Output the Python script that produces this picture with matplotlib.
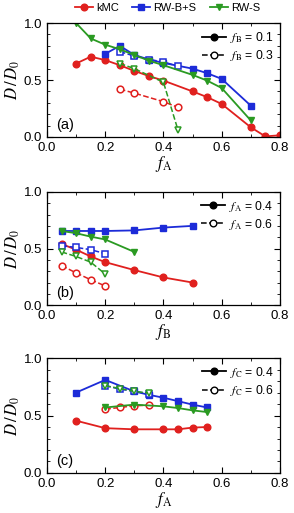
import matplotlib.pyplot as plt
from matplotlib.lines import Line2D

plt.rcParams['font.family'] = ['Liberation Sans', 'DejaVu Sans']
plt.rcParams['mathtext.fontset'] = 'stix'

RED = '#e0201e'
BLUE = '#1c2bd8'
GREEN = '#2a9a22'

# panel (a): x = fA, fB = 0.1 (solid) / 0.3 (open)
a_kmc_x1 = [0.1, 0.15, 0.2, 0.25, 0.3, 0.35, 0.4, 0.5, 0.55, 0.6, 0.7, 0.75, 0.8]
a_kmc_y1 = [0.645, 0.705, 0.675, 0.63, 0.58, 0.535, 0.495, 0.40, 0.35, 0.29, 0.085, 0.005, 0.015]
a_kmc_x2 = [0.25, 0.3, 0.4, 0.45]
a_kmc_y2 = [0.42, 0.385, 0.31, 0.26]
a_bs_x1 = [0.2, 0.25, 0.3, 0.35, 0.4, 0.5, 0.55, 0.6, 0.7]
a_bs_y1 = [0.73, 0.80, 0.72, 0.68, 0.65, 0.60, 0.56, 0.51, 0.275]
a_bs_x2 = [0.25, 0.3, 0.35, 0.4, 0.45]
a_bs_y2 = [0.75, 0.71, 0.68, 0.66, 0.62]
a_rws_x1 = [0.1, 0.15, 0.2, 0.25, 0.3, 0.35, 0.4, 0.5, 0.55, 0.6, 0.7]
a_rws_y1 = [1.0, 0.865, 0.81, 0.77, 0.72, 0.67, 0.63, 0.545, 0.495, 0.43, 0.145]
a_rws_x2 = [0.25, 0.3, 0.4, 0.45]
a_rws_y2 = [0.645, 0.60, 0.48, 0.06]

# panel (b): x = fB, fA = 0.4 (solid) / 0.6 (open)
b_x1 = [0.05, 0.1, 0.15, 0.2, 0.3, 0.4, 0.5]
b_kmc_y1 = [0.54, 0.49, 0.43, 0.38, 0.31, 0.245, 0.20]
b_bs_y1 = [0.655, 0.655, 0.655, 0.655, 0.66, 0.685, 0.70]
b_rws_x1 = [0.05, 0.1, 0.15, 0.2, 0.3]
b_rws_y1 = [0.655, 0.635, 0.605, 0.58, 0.47]
b_x2 = [0.05, 0.1, 0.15, 0.2]
b_kmc_y2 = [0.35, 0.285, 0.225, 0.17]
b_bs_y2 = [0.525, 0.51, 0.49, 0.455]
b_rws_y2 = [0.47, 0.43, 0.38, 0.275]

# panel (c): x = fA, fC = 0.4 (solid) / 0.6 (open)
c_kmc_x1 = [0.1, 0.2, 0.3, 0.4, 0.45, 0.5, 0.55]
c_kmc_y1 = [0.455, 0.39, 0.38, 0.38, 0.38, 0.395, 0.40]
c_bs_x1 = [0.1, 0.2, 0.3, 0.35, 0.4, 0.45, 0.5, 0.55]
c_bs_y1 = [0.70, 0.81, 0.71, 0.68, 0.655, 0.625, 0.595, 0.57]
c_rws_x1 = [0.2, 0.3, 0.4, 0.45, 0.5, 0.55]
c_rws_y1 = [0.57, 0.595, 0.58, 0.565, 0.545, 0.53]
c_x2 = [0.2, 0.25, 0.3, 0.35]
c_kmc_y2 = [0.555, 0.57, 0.585, 0.59]
c_bs_y2 = [0.76, 0.73, 0.71, 0.69]
c_rws_y2 = [0.76, 0.735, 0.71, 0.695]

MS = 4.8

fig = plt.figure(figsize=(2.94, 5.13), dpi=100)
ax_a = fig.add_axes([0.160, 0.733, 0.792, 0.222])
ax_b = fig.add_axes([0.160, 0.405, 0.792, 0.221])
ax_c = fig.add_axes([0.160, 0.078, 0.792, 0.224])


def solid(ax, x, y, c, m):
    ax.plot(x, y, '-', color=c, marker=m, ms=MS, lw=1.3)


def hollow(ax, x, y, c, m):
    ax.plot(x, y, '--', color=c, marker=m, ms=MS, lw=1.1, mfc='white', mew=1.1)


solid(ax_a, a_kmc_x1, a_kmc_y1, RED, 'o')
hollow(ax_a, a_kmc_x2, a_kmc_y2, RED, 'o')
solid(ax_a, a_bs_x1, a_bs_y1, BLUE, 's')
hollow(ax_a, a_bs_x2, a_bs_y2, BLUE, 's')
solid(ax_a, a_rws_x1, a_rws_y1, GREEN, 'v')
hollow(ax_a, a_rws_x2, a_rws_y2, GREEN, 'v')

solid(ax_b, b_x1, b_kmc_y1, RED, 'o')
hollow(ax_b, b_x2, b_kmc_y2, RED, 'o')
solid(ax_b, b_x1, b_bs_y1, BLUE, 's')
hollow(ax_b, b_x2, b_bs_y2, BLUE, 's')
solid(ax_b, b_rws_x1, b_rws_y1, GREEN, 'v')
hollow(ax_b, b_x2, b_rws_y2, GREEN, 'v')

solid(ax_c, c_kmc_x1, c_kmc_y1, RED, 'o')
hollow(ax_c, c_x2, c_kmc_y2, RED, 'o')
solid(ax_c, c_bs_x1, c_bs_y1, BLUE, 's')
hollow(ax_c, c_x2, c_bs_y2, BLUE, 's')
solid(ax_c, c_rws_x1, c_rws_y1, GREEN, 'v')
hollow(ax_c, c_x2, c_rws_y2, GREEN, 'v')

panels = [(ax_a, '(a)', r'$f_\mathrm{A}$', r'$f_\mathrm{B}$', ['0.1', '0.3']),
          (ax_b, '(b)', r'$f_\mathrm{B}$', r'$f_\mathrm{A}$', ['0.4', '0.6']),
          (ax_c, '(c)', r'$f_\mathrm{A}$', r'$f_\mathrm{C}$', ['0.4', '0.6'])]
for ax, tag, xlab, key, vals in panels:
    ax.set_xlim(0, 0.8)
    ax.set_ylim(0, 1.0)
    ax.set_xticks([0, 0.2, 0.4, 0.6, 0.8])
    ax.set_xticks([0.1, 0.3, 0.5, 0.7], minor=True)
    ax.set_yticks([0, 0.5, 1.0])
    ax.set_yticks([0.1, 0.2, 0.3, 0.4, 0.6, 0.7, 0.8, 0.9], minor=True)
    ax.tick_params(which='both', direction='in', top=True, right=True, labelsize=9.5)
    ax.tick_params(which='major', length=4)
    ax.tick_params(which='minor', length=2.5)
    for s in ax.spines.values():
        s.set_linewidth(0.9)
    ax.set_xlabel(xlab, fontsize=12, labelpad=0)
    ax.set_ylabel(r'$D\,/\,D_0$', fontsize=12, labelpad=1)
    ax.text(0.04, 0.07, tag, transform=ax.transAxes, fontsize=10.5)
    hs = [Line2D([], [], color='black', ls='-', marker='o', ms=MS, lw=1.3),
          Line2D([], [], color='black', ls='--', marker='o', ms=MS, lw=1.1,
                 mfc='white')]
    ax.legend(hs, [key + ' = ' + v for v in vals], loc='upper right',
              frameon=False, fontsize=8.7, handlelength=2.0, handletextpad=0.3,
              borderaxespad=0.15, labelspacing=0.25)

top = [Line2D([], [], color=RED, marker='o', ms=MS, lw=1.3),
       Line2D([], [], color=BLUE, marker='s', ms=MS, lw=1.3),
       Line2D([], [], color=GREEN, marker='v', ms=MS, lw=1.3)]
fig.legend(top, ['kMC', 'RW-B+S', 'RW-S'], loc='center', bbox_to_anchor=(0.57, 0.984),
           ncol=3, frameon=False, fontsize=8, handlelength=1.6, handletextpad=0.3,
           columnspacing=1.2, borderpad=0.1)

fig.savefig('out.png', dpi=100)
